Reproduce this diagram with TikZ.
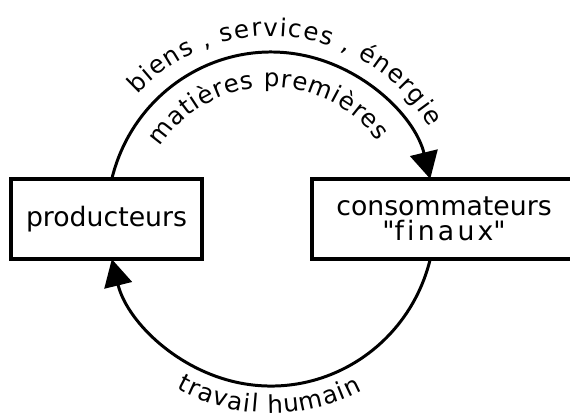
\documentclass[tikz,border=0pt]{standalone}
\usepackage{fontspec}
\setmainfont{DejaVu Sans}[Ligatures=NoCommon]
\usetikzlibrary{arrows.meta,decorations.text}

\newcommand{\boxfont}{\fontsize{7.6}{7.2}\selectfont}
\newcommand{\curvefont}{\fontsize{7}{8}\selectfont}

\begin{document}
\begin{tikzpicture}[scale=0.1]
        \tikzstyle{every node}+=[inner sep=0pt]
        \tikzstyle{box}=[draw, line width=1.3pt, minimum width=19.1mm, minimum height=8mm, align=center, font=\boxfont]
        \tikzstyle{flow}=[line width=0.85pt, -{Triangle[length=2.7mm,width=2.8mm]}]
        \tikzstyle{curved}=[decorate, decoration={text along path, text align={fit to path}}]
        \useasboundingbox (0,0) rectangle (57,-41.4);
        \coordinate (c) at (27.1,-21.9);
        \draw (10.65,-21.9) node[box] (prod) {producteurs};
        \draw (44.4,-21.9) node[box, minimum width=26.4mm] (conso) {consommateurs\\{\addfontfeature{LetterSpace=12}\textquotedbl finaux\textquotedbl}};
        % flux du haut et du bas
        \draw [flow] ([shift={(166.1:16.4 and 16.7)}]c) arc[start angle=166.1, end angle=13.9, x radius=16.4, y radius=16.7];
        \draw [flow] ([shift={(-13.9:16.4 and 16.7)}]c) arc[start angle=-13.9, end angle=-166.1, x radius=16.4, y radius=16.7];
        % textes courbes
        \path [curved, decoration={text={|\curvefont|biens {,} services {,} énergie}}] ([shift={(137:18.3)}]c) arc[start angle=137, end angle=30, radius=18.3];
        \path [curved, decoration={text={|\curvefont|matières premières}}] ([shift={(147:13.2)}]c) arc[start angle=147, end angle=36, radius=13.2];
        \path [curved, decoration={text={|\curvefont|travail humain}}] ([shift={(241:19.4)}]c) arc[start angle=241, end angle=298, radius=19.4];
\end{tikzpicture}
\end{document}
